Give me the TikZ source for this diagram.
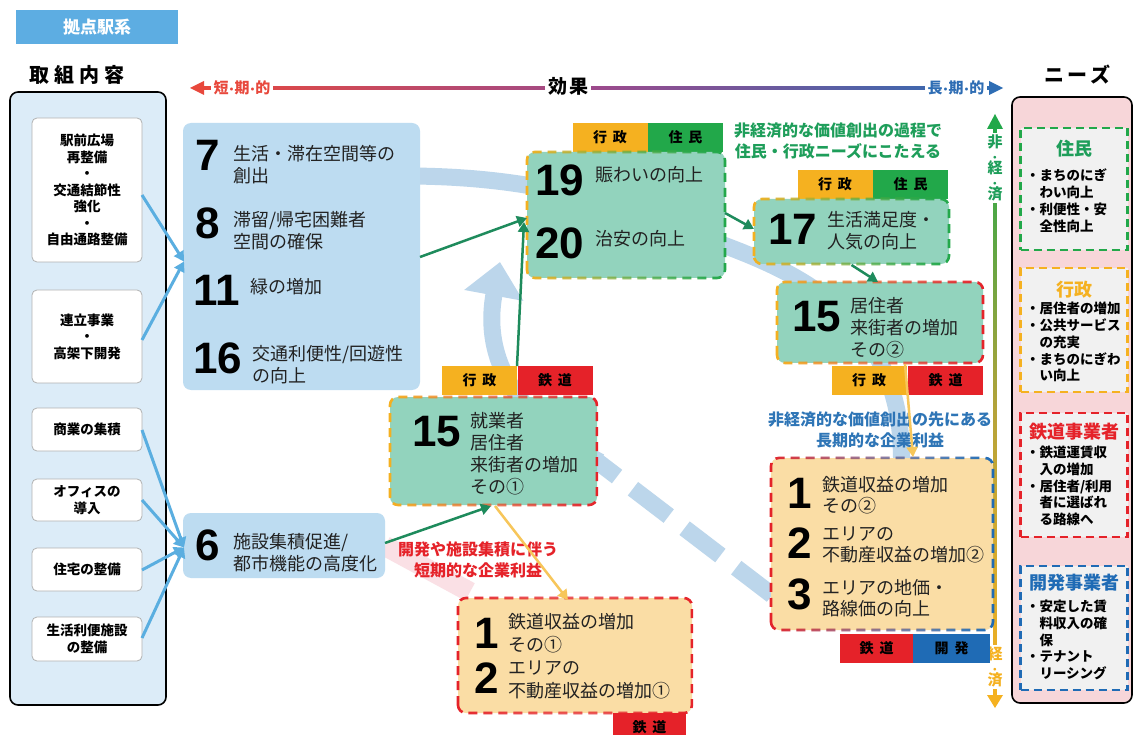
\documentclass[tikz,border=0pt]{standalone}
\usepackage{fontspec}
\usepackage{graphicx}
\setmainfont{Noto Sans CJK JP}
\newfontfamily\numfont{Liberation Sans}
\usetikzlibrary{arrows.meta,fadings,calc}
\definecolor{hdrblue}{HTML}{5DADE2}
\definecolor{lboxfill}{HTML}{DCECF8}
\definecolor{effblue}{HTML}{BDDCF1}
\definecolor{effteal}{HTML}{92D3BD}
\definecolor{efftan}{HTML}{FADDA5}
\definecolor{needpink}{HTML}{F7D6D9}
\definecolor{needgray}{HTML}{F1F1F1}
\definecolor{corange}{HTML}{F5B120}
\definecolor{cgreen}{HTML}{22A84A}
\definecolor{cred}{HTML}{E52229}
\definecolor{cblue}{HTML}{1F6BB5}
\definecolor{arrblue}{HTML}{5AAEE0}
\definecolor{darrgreen}{HTML}{1E8B5C}
\definecolor{arryellow}{HTML}{F7C65A}
\definecolor{bandblue}{HTML}{BCD6EB}
\definecolor{pinkband}{HTML}{F8D3DA}
\definecolor{txtgreen}{HTML}{1E9E5A}
\definecolor{txtblue}{HTML}{2E75B6}
\definecolor{hred}{HTML}{E8483C}
\definecolor{hpurple}{HTML}{9C4A8C}
\definecolor{hblue}{HTML}{2E6DB4}
\definecolor{olivey}{HTML}{B5A33A}
\definecolor{bodytxt}{HTML}{222222}
\newcommand{\mydot}{\kern1pt\raisebox{2pt}{\scalebox{0.55}{$\bullet$}}\kern1pt}
\newcommand{\gradborder}[3]{%
  \draw[dashbord,#2,path fading=east] (#1.south west) rectangle (#1.north east);
  \draw[dashbord,#3,path fading=west] (#1.south west) rectangle (#1.north east);}
\tikzset{
  every node/.style={inner sep=0pt,outer sep=0pt},
  inbox/.style={draw=gray!60,line width=0.8pt,fill=white,rounded corners=5pt,minimum width=110pt,align=center,font=\bfseries\fontsize{13.5}{16.5}\selectfont},
  effbox/.style={fill=effblue,rounded corners=8pt},
  tealbox/.style={fill=effteal,rounded corners=8pt},
  tanbox/.style={fill=efftan,rounded corners=8pt},
  tagbox/.style={minimum width=75pt,minimum height=29pt,font=\bfseries\fontsize{14}{14}\selectfont},
  bignum/.style={anchor=north west,font=\numfont\bfseries\fontsize{44}{44}\selectfont,text=black},
  btxt/.style={anchor=north west,align=left,font=\fontsize{18}{22}\selectfont,text=bodytxt},
  dashbord/.style={line width=2.6pt,dash pattern=on 9pt off 6pt,rounded corners=8pt},
  needbox/.style={fill=needgray,line width=2.2pt,dash pattern=on 8pt off 5pt,minimum width=107pt},
  needttl/.style={font=\bfseries\fontsize{18}{18}\selectfont},
  needtxt/.style={anchor=north west,align=left,font=\bfseries\fontsize{13.5}{16.8}\selectfont},
  barr/.style={draw=arrblue,line width=3pt,-{Triangle[length=10pt,width=11pt]}},
  garr/.style={draw=darrgreen,line width=2.5pt,-{Triangle[length=10pt,width=11pt]}},
  yarr/.style={draw=arryellow,line width=2.5pt,-{Triangle[length=10pt,width=11pt]}},
  band/.style={draw=bandblue,line width=17pt},
  capt/.style={font=\bfseries\fontsize{16}{20.5}\selectfont,align=center},
}
\begin{document}
\begin{tikzpicture}[x=1pt,y=-1pt]
\clip (0,0) rectangle (1133,735);
\fill[white] (0,0) rectangle (1133,735);

% ---------- pale background bands ----------
\draw[band] (405,176) .. controls (480,176) and (560,185) .. (640,215)
  .. controls (720,245) and (800,265) .. (850,320)
  .. controls (900,375) and (905,430) .. (900,500);
\draw[band,dash pattern=on 45pt off 20pt] (772,595) -- (598,462);
\draw[band,-{Triangle[length=34pt,width=58pt]}] (600,462) .. controls (530,425) and (480,370) .. (500,262);
\draw[draw=pinkband,line width=20pt,opacity=0.7] (385,546) -- (470,592);

% ---------- header ----------
\node[fill=hdrblue,minimum width=162pt,minimum height=34pt,text=white,font=\bfseries\fontsize{17}{17}\selectfont] (hdr) at (97,27) {拠点駅系};
\node[font=\bfseries\fontsize{20}{20}\selectfont] (ttlL) at (77,75) {取\hspace{5pt}組\hspace{5pt}内\hspace{5pt}容};
\node[font=\bfseries\fontsize{20}{20}\selectfont] (ttlR) at (1077,75) {ニ\hspace{3pt}ー\hspace{3pt}ズ};

% time axis
\shade[left color=hred,right color=hblue,middle color=hpurple] (202,86.5) rectangle (990,89.5);
\coordinate (axL) at (190,88);
\coordinate (axR) at (1003,88);
\fill[hred] (axL) -- (204,81) -- (204,95) -- cycle;
\fill[hblue] (axR) -- (989,81) -- (989,95) -- cycle;
\node[fill=white,inner xsep=3pt,text=hred,font=\bfseries\fontsize{15}{15}\selectfont] (short) at (242,88) {短\mydot 期\mydot 的};
\node[fill=white,inner xsep=3pt,font=\bfseries\fontsize{19}{19}\selectfont] (eff) at (568,86) {効\hspace{2pt}果};
\node[fill=white,inner xsep=3pt,text=hblue,font=\bfseries\fontsize{15}{15}\selectfont] (long) at (956,88) {長\mydot 期\mydot 的};

% ---------- left column ----------
\node[draw=black,line width=1.6pt,rounded corners=8pt,fill=lboxfill,minimum width=156pt,minimum height=613pt] (left) at (88,398.5) {};
\node[inbox,minimum height=144pt] (a1) at (87,190) {駅前広場\\再整備\\・\\交通結節性\\強化\\・\\自由通路整備};
\node[inbox,minimum height=93pt] (a2) at (87,336.5) {連立事業\\・\\高架下開発};
\node[inbox,minimum height=43pt] (a3) at (87,429.5) {商業の集積};
\node[inbox,minimum height=42pt] (a4) at (87,500) {オフィスの\\導入};
\node[inbox,minimum height=43pt] (a5) at (87,569.5) {住宅の整備};
\node[inbox,minimum height=44pt] (a6) at (87,639) {生活利便施設\\の整備};

% ---------- right column (needs) ----------
\node[draw=black,line width=1.6pt,rounded corners=8pt,fill=needpink,minimum width=120pt,minimum height=606pt] (right) at (1072,400) {};
\node[needbox,draw=cgreen,minimum height=122pt] (n1) at (1074,189) {};
\node[needttl,text=txtgreen] (n1t) at (1074,149) {住民};
\node[needtxt] (n1x) at (1026,169) {・まちのにぎ\\\hspace*{13.5pt}わい向上\\・利便性・安\\\hspace*{13.5pt}全性向上};
\node[needbox,draw=corange,minimum height=124pt] (n2) at (1074,330) {};
\node[needttl,text=corange] (n2t) at (1074,290) {行政};
\node[needtxt] (n2x) at (1026,302) {・居住者の増加\\・公共サービス\\\hspace*{13.5pt}の充実\\・まちのにぎわ\\\hspace*{13.5pt}い向上};
\node[needbox,draw=cred,minimum height=124pt] (n3) at (1074,475) {};
\node[needttl,text=cred] (n3t) at (1074,432) {鉄道事業者};
\node[needtxt] (n3x) at (1026,446) {・鉄道運賃収\\\hspace*{13.5pt}入の増加\\・居住者/利用\\\hspace*{13.5pt}者に選ばれ\\\hspace*{13.5pt}る路線へ};
\node[needbox,draw=cblue,minimum height=124pt] (n4) at (1074,628) {};
\node[needttl,text=cblue] (n4t) at (1074,583) {開発事業者};
\node[needtxt] (n4x) at (1026,600) {・安定した賃\\\hspace*{13.5pt}料収入の確\\\hspace*{13.5pt}保\\・テナント\\\hspace*{13.5pt}リーシング};

% vertical economic axis
\shade[top color=cgreen,bottom color=corange,middle color=olivey] (993.5,126) rectangle (996.5,697);
\coordinate (vaT) at (995,114);
\coordinate (vaB) at (995,708);
\fill[cgreen] (vaT) -- (987,129) -- (1003,129) -- cycle;
\fill[corange] (vaB) -- (987,695) -- (1003,695) -- cycle;
\node[fill=white,inner ysep=2pt,align=center,text=txtgreen,font=\bfseries\fontsize{15}{17}\selectfont] (nonecon) at (995,168) {非\\[-5pt]\scalebox{0.5}{$\bullet$}\\[-3pt]経\\[-5pt]\scalebox{0.5}{$\bullet$}\\[-3pt]済};
\node[fill=white,inner ysep=2pt,align=center,text=corange,font=\bfseries\fontsize{15}{17}\selectfont] (econ) at (995,667) {経\\[-5pt]\scalebox{0.5}{$\bullet$}\\[-3pt]済};

% ---------- effect boxes ----------
\node[effbox,minimum width=237pt,minimum height=267pt] (e7) at (301.5,256.5) {};
\node[bignum] (n7) at (195,140) {7};
\node[btxt] (t7) at (233,145) {生活・滞在空間等の\\創出};
\node[bignum] (n8) at (195,208) {8};
\node[btxt] (t8) at (233,211) {滞留/帰宅困難者\\空間の確保};
\node[bignum] (n11) at (193,275) {11};
\node[btxt] (t11) at (250,278) {緑の増加};
\node[bignum] (n16) at (193,343) {16};
\node[btxt] (t16) at (252,345) {交通利便性/回遊性\\の向上};

\node[effbox,minimum width=202pt,minimum height=65pt] (e6) at (284,545.5) {};
\node[bignum] (n6) at (195,530) {6};
\node[btxt] (t6) at (233,533) {施設集積促進/\\都市機能の高度化};

% box 19/20
\node[tagbox,fill=corange] (g19a) at (610,137.5) {行\hspace{6pt}政};
\node[tagbox,fill=cgreen] (g19b) at (685.5,137.5) {住\hspace{6pt}民};
\node[tealbox,minimum width=198pt,minimum height=126pt] (e19) at (626,215) {};
\gradborder{e19}{corange}{cgreen}
\node[bignum] (n19) at (535,165) {19};
\node[btxt] (t19) at (595,166) {賑わいの向上};
\node[bignum] (n20) at (535,228) {20};
\node[btxt] (t20) at (595,230) {治安の向上};

% box 17
\node[tagbox,fill=corange] (g17a) at (835,184.5) {行\hspace{6pt}政};
\node[tagbox,fill=cgreen] (g17b) at (910.5,184.5) {住\hspace{6pt}民};
\node[tealbox,minimum width=195pt,minimum height=65pt] (e17) at (851.5,231.5) {};
\gradborder{e17}{corange}{cgreen}
\node[bignum] (n17) at (768,214) {17};
\node[btxt] (t17) at (827,211) {生活満足度・\\人気の向上};

% box 15 (2)
\node[tealbox,minimum width=206pt,minimum height=81pt] (e15b) at (880,322.5) {};
\gradborder{e15b}{corange}{cred}
\node[tagbox,fill=corange] (g15ba) at (869,380.5) {行\hspace{6pt}政};
\node[tagbox,fill=cred] (g15bb) at (945.5,380.5) {鉄\hspace{6pt}道};
\node[bignum] (n15b) at (792,301) {15};
\node[btxt] (t15b) at (850,297) {居住者\\来街者の増加\\その②};

% box 15 (1)
\node[tagbox,fill=corange] (g15aa) at (479.5,380.5) {行\hspace{6pt}政};
\node[tagbox,fill=cred] (g15ab) at (555,380.5) {鉄\hspace{6pt}道};
\node[tealbox,minimum width=207pt,minimum height=108pt] (e15a) at (493.5,451) {};
\gradborder{e15a}{corange}{cred}
\node[bignum] (n15a) at (412,416) {15};
\node[btxt] (t15a) at (470,412) {就業者\\居住者\\来街者の増加\\その①};

% box 1/2 (1)
\node[tanbox,minimum width=234pt,minimum height=115pt] (r12a) at (575,655.5) {};
\gradborder{r12a}{cred}{cred}
\node[tagbox,fill=cred,minimum width=73pt] (g12a) at (649.5,727.5) {鉄\hspace{6pt}道};
\node[bignum] (n1a) at (474,618) {1};
\node[btxt,font=\fontsize{18}{23}\selectfont] (t1a) at (508,613) {鉄道収益の増加\\その①};
\node[bignum] (n2a) at (474,663) {2};
\node[btxt,font=\fontsize{18}{23}\selectfont] (t2a) at (508,661) {エリアの\\不動産収益の増加①};

% box 1/2/3 (2)
\node[tanbox,minimum width=222pt,minimum height=172pt] (r123b) at (882,544) {};
\gradborder{r123b}{cred}{cblue}
\node[tagbox,fill=cred,minimum width=73pt] (g123a) at (876.5,648) {鉄\hspace{6pt}道};
\node[tagbox,fill=cblue,minimum width=77pt] (g123b) at (951.5,648) {開\hspace{6pt}発};
\node[bignum] (n1b) at (787,478) {1};
\node[btxt,font=\fontsize{18}{21}\selectfont] (t1b) at (822,476) {鉄道収益の増加\\その②};
\node[bignum] (n2b) at (787,528) {2};
\node[btxt,font=\fontsize{18}{21}\selectfont] (t2b) at (822,527) {エリアの\\不動産収益の増加②};
\node[bignum] (n3b) at (787,579) {3};
\node[btxt,font=\fontsize{18}{21}\selectfont] (t3b) at (822,579) {エリアの地価・\\路線価の向上};

% ---------- captions ----------
\node[capt,text=txtgreen] (cap1) at (838,141) {非経済的な価値創出の過程で\\住民・行政ニーズにこたえる};
\node[capt,text=txtblue] (cap2) at (880,430) {非経済的な価値創出の先にある\\長期的な企業利益};
\node[capt,text=cred] (cap3) at (478,560) {開発や施設集積に伴う\\短期的な企業利益};

% ---------- connectors ----------
\coordinate (in7) at ($(e7.west)+(1,5)$);
\coordinate (in6) at ($(e6.west)+(1,2)$);
\draw[barr] (a1.east|-0,195) -- (in7);
\draw[barr] (a2.east|-0,340) -- (in7);
\draw[barr] (a3.east|-0,430) -- (in6);
\draw[barr] (a4.east|-0,500) -- (in6);
\draw[barr] (a5.east|-0,570) -- (in6);
\draw[barr] (a6.east|-0,638) -- (in6);

\coordinate (o17) at ($(e17.south)+(0,1)$);
\coordinate (i15b) at ($(e15b.north)+(-2,0)$);
\draw[garr] (e7.east|-0,257) -- (e19.west|-0,218);
\draw[garr] (g15aa.north east) -- ($(e19.west|-0,222)+(-3,0)$);
\draw[garr] (e19.east|-0,213) -- (e17.west|-0,229);
\draw[garr] (o17) -- (i15b);
\draw[garr] (e6.east|-0,543) -- (491,506);
\draw[yarr] (495,506) -- (568,600);
\draw[yarr] (905,364) -- (913,457);
\end{tikzpicture}
\end{document}
